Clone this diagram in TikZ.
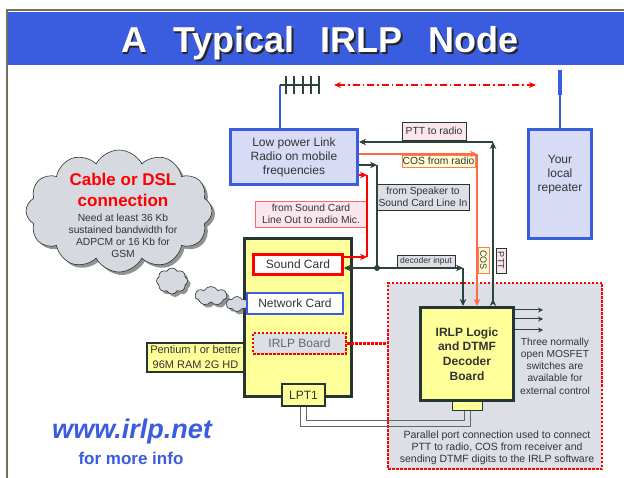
\documentclass[tikz,border=0pt]{standalone}
\usepackage{fontspec}
\setmainfont{Liberation Sans}
\usetikzlibrary{positioning}
\usetikzlibrary {arrows.meta}
\usetikzlibrary{shapes.symbols,shadows,calc}

\definecolor{irlpblue}{HTML}{3A5CDE}
\definecolor{radiofill}{HTML}{D8DBF6}
\definecolor{boardyellow}{HTML}{FFFF99}
\definecolor{darkline}{HTML}{24362F}
\definecolor{wiregray}{HTML}{2E423C}
\definecolor{regionfill}{HTML}{DCDFE6}
\definecolor{cloudfill}{HTML}{D6D9E0}
\definecolor{tagpink}{HTML}{FBE6EE}
\definecolor{tagyellow}{HTML}{FFFFD2}
\definecolor{tagorange}{HTML}{FF7A55}
\definecolor{cosline}{HTML}{FF6B4A}
\definecolor{textgray}{HTML}{333333}
\definecolor{framegray}{HTML}{6F705F}

\tikzset{radiobox/.style={rectangle,draw=irlpblue,fill=radiofill,line width=3pt,
inner sep=2pt,align=center,text=textgray,font=\fontsize{12}{14}\selectfont}}
\tikzset{boardbox/.style={rectangle,draw=darkline,fill=boardyellow,line width=3pt,
inner sep=2pt}}
\tikzset{cardbox/.style={rectangle,fill=white,line width=2.5pt,
inner sep=2pt,text=textgray,font=\fontsize{12}{14}\selectfont}}
\tikzset{tagbox/.style={rectangle,draw=darkline,line width=0.8pt,inner sep=0.5pt,
align=center,text=textgray,font=\fontsize{10.3}{12.3}\selectfont}}
\tikzset{wire/.style={draw=wiregray,line width=1.5pt}}
\tikzset{wirearrow/.style={-{Stealth[length=7pt,width=6.5pt]}}}
\tikzset{puff/.style={cloud,cloud ignores aspect,cloud puff arc=125,draw=darkline,line width=0.6pt,
fill=cloudfill,inner sep=0pt,
drop shadow={shadow xshift=3pt,shadow yshift=-3pt,fill=black!70,opacity=0.6}}}
\tikzset{cable/.style={draw=black!60,line width=0.9pt}}
\tikzset{reddots/.style={draw=red,line width=2.5pt,dash pattern=on 2.5pt off 1.5pt}}

\begin{document}
\begin{tikzpicture}[x=1pt,y=-1pt]
    \useasboundingbox (0,0) rectangle (624,478);
    \fill[white] (0,0) rectangle (624,478);

    % frame and title
    \draw[framegray,line width=2pt] (7,478) -- (7,10) -- (624,10);
    \fill[irlpblue] (8,12) rectangle (624,65);
    \node[anchor=base,text=black!85,font=\bfseries\fontsize{36}{40}\selectfont] (titleshadow) at (321.5,54.5)
        {A\hspace{26pt}Typical\hspace{26pt}IRLP\hspace{26pt}Node};
    \node[anchor=base,text=white,font=\bfseries\fontsize{36}{40}\selectfont] (title) at (320,53)
        {A\hspace{26pt}Typical\hspace{26pt}IRLP\hspace{26pt}Node};

    % radios
    \node[radiobox,minimum width=127pt,minimum height=55pt] (radio) at (294,157)
        {Low power Link\\Radio on mobile\\frequencies};
    \node[radiobox,minimum width=63pt,minimum height=109pt] (repeater) at (560,184) {};
    \node[align=center,text=textgray,font=\fontsize{12}{14}\selectfont] (repeatertext)
        at ([yshift=9pt]repeater.center) {Your\\local\\repeater};

    % antennas
    \coordinate (yagi) at (280,85);
    \draw[irlpblue,line width=2pt] (radio.north -| yagi) -- (yagi);
    \draw[wiregray,line width=1.5pt] (yagi) -- ++(40,0);
    \foreach \tick in {6,14,23,31,39}
        \draw[wiregray,line width=1.5pt] ($(yagi)+(\tick,-9)$) -- ++(0,18);
    \coordinate (reptop) at (560,70);
    \draw[irlpblue,line width=3.5pt] (reptop) -- ++(0,25);
    \draw[irlpblue,line width=1.5pt] ($(reptop)+(0,25)$) -- (repeater.north);
    \coordinate (linkl) at (334,85);
    \coordinate (linkr) at (536,85);
    \draw[red,line width=1.5pt,dash pattern=on 7pt off 3pt on 1.5pt off 3pt,
        {Stealth[length=7pt,width=6pt]}-{Stealth[length=7pt,width=6pt]}] (linkl) -- (linkr);

    % logic board area
    \node[rectangle,fill=regionfill,reddots,minimum width=214pt,minimum height=186pt] (logicarea) at (495,376) {};

    % computer
    \node[boardbox,minimum width=107pt,minimum height=158pt] (pc) at (298,317.5) {};
    \node[rectangle,draw=darkline,fill=boardyellow,line width=2pt,align=center,inner sep=1pt,
        text=textgray,font=\fontsize{11}{15}\selectfont,minimum width=97pt,minimum height=29pt]
        (pentium) at (195.5,357.5) {Pentium I or better\\96M RAM 2G HD};

    % thought cloud
    \node[puff,cloud puffs=12,minimum width=186pt,minimum height=122pt] (dslcloud) at (119,211) {};
    \node[align=center,text=red,font=\bfseries\fontsize{17}{21}\selectfont] (cloudtitle) at (123,190)
        {Cable or DSL\\connection};
    \node[align=center,text=textgray,font=\fontsize{10.3}{12.2}\selectfont] (cloudtext) at (123,236)
        {Need at least 36 Kb\\sustained bandwidth for\\ADPCM or 16 Kb for\\GSM};
    \node[puff,cloud puffs=8,minimum width=31pt,minimum height=26pt] (bubblea) at (172,281) {};
    \node[puff,cloud puffs=7,minimum width=32pt,minimum height=19pt] (bubbleb) at (211,296) {};
    \node[puff,cloud puffs=6,minimum width=21pt,minimum height=15pt] (bubblec) at (237,304) {};

    % cards
    \node[cardbox,draw=red,minimum width=89pt,minimum height=20pt] (soundcard) at (298,264.5) {Sound Card};
    \node[cardbox,draw=irlpblue,line width=2pt,minimum width=96pt,minimum height=21pt] (netcard) at (295,303.5) {Network Card};
    \node[cardbox,fill=regionfill,reddots,minimum width=93pt,minimum height=21pt,text=black!60] (irlpboard) at (299.5,343.5) {IRLP Board};
    \draw[reddots] (irlpboard.east) -- (irlpboard.east -| logicarea.west);

    % parallel cable
    \node[rectangle,draw=darkline,fill=boardyellow,line width=1pt,inner sep=0pt,
        minimum width=30pt,minimum height=9pt] (port) at (467,406) {};
    \draw[cable] ($(303.5,407)+(-3,0)$) |- ($(port.south)+(3,15)$) -- ($(port.south)+(3,0)$);
    \draw[cable] ($(303.5,407)+(3,0)$) |- ($(port.south)+(-3,9)$) -- ($(port.south)+(-3,0)$);
    \node[boardbox,line width=2.5pt,minimum width=43pt,minimum height=22pt,
        text=textgray,font=\fontsize{12}{14}\selectfont] (lpt) at (303.5,395) {LPT1};

    \node[boardbox,minimum width=93pt,minimum height=93pt,align=center,
        text=textgray,font=\bfseries\fontsize{12}{14.7}\selectfont] (logic) at (467,354)
        {IRLP Logic\\and DTMF\\Decoder\\Board};

    % labels on the wires
    \node[tagbox,fill=tagpink,minimum width=64pt,minimum height=18pt] (pttradio) at (434,131) {PTT to radio};
    \node[tagbox,fill=tagyellow,draw=tagorange,minimum width=73pt,minimum height=12pt] (cosradio) at (438.5,161) {COS from radio};
    \node[tagbox,fill=regionfill,minimum width=92pt,minimum height=26pt] (speakertag) at (423,197)
        {from Speaker to\\Sound Card Line In};
    \node[tagbox,fill=tagpink,draw=red!60,minimum width=112pt,minimum height=26pt] (mictag) at (311,214)
        {from Sound Card\\Line Out to radio Mic.};
    \node[tagbox,fill=regionfill,font=\fontsize{8.5}{10}\selectfont,minimum width=58pt,minimum height=12pt]
        (decodertag) at (426,261) {decoder input};
    \node[tagbox,fill=tagyellow,draw=tagorange,rotate=-90,font=\fontsize{9}{10}\selectfont,
        minimum width=26pt,minimum height=11pt] (costag) at (483.5,260) {COS};
    \node[tagbox,fill=tagpink,rotate=-90,font=\fontsize{9}{10}\selectfont,
        minimum width=25pt,minimum height=10pt] (ptttag) at (501,260.5) {PTT};

    % PTT
    \coordinate (pttcorner) at (493,142);
    \draw[wire,{Stealth[length=7pt,width=6.5pt,reversed]}-{Stealth[length=7pt,width=6.5pt]}]
        (pttcorner |- logic.north) -- (pttcorner);
    \draw[wire,wirearrow] (pttcorner) -- (pttcorner -| radio.east);
    % COS
    \coordinate (coscorner) at (477,154);
    \draw[cosline,line width=1.5pt,wirearrow] (coscorner -| radio.east) -- (coscorner);
    \draw[cosline,line width=1.5pt,wirearrow] (coscorner) -- (coscorner |- logic.north);
    % speaker to sound card and decoder
    \coordinate (spkcorner) at (377,165);
    \coordinate (junction) at (377,268);
    \coordinate (deccorner) at (463,268);
    \draw[wire,wirearrow] (spkcorner -| radio.east) -- (spkcorner);
    \draw[wire] (spkcorner) -- (junction);
    \draw[wire,wirearrow] (junction) -- (junction -| soundcard.east);
    \draw[wire,wirearrow] (junction) -- (deccorner);
    \draw[wire,wirearrow] (deccorner) -- (deccorner |- logic.north);
    \fill[wiregray] (junction) circle (3pt);
    % sound card to mic
    \coordinate (miclow) at (367,257);
    \coordinate (michigh) at (367,175);
    \draw[red,line width=2pt,wirearrow] (miclow -| soundcard.east) -- (miclow);
    \draw[red,line width=2pt] (miclow) -- (michigh);
    \draw[red,line width=2pt,wirearrow] (michigh -| radio.east) -- (michigh);

    % switch outputs
    \foreach \dy in {44,35,24}
        \draw[wire,line width=1pt,-{Stealth[length=5pt,width=5pt]}] ([yshift=\dy pt]logic.east) -- ++(28,0);

    % texts
    \node[align=center,text=textgray,font=\fontsize{10.2}{12.2}\selectfont] (mosfettext) at (555,366)
        {Three normally\\open MOSFET\\switches are\\available for\\external control};
    \node[align=center,text=textgray,font=\fontsize{10.5}{12}\selectfont] (paralleltext) at (497,448)
        {Parallel port connection used to connect\\PTT to radio, COS from receiver and\\sending DTMF digits to the IRLP software};
    \node[text=irlpblue,font=\bfseries\itshape\fontsize{27}{30}\selectfont] (website) at (132,432) {www.irlp.net};
    \node[text=irlpblue,font=\bfseries\fontsize{17}{20}\selectfont] (moreinfo) at (131,458) {for more info};
\end{tikzpicture}
\end{document}
